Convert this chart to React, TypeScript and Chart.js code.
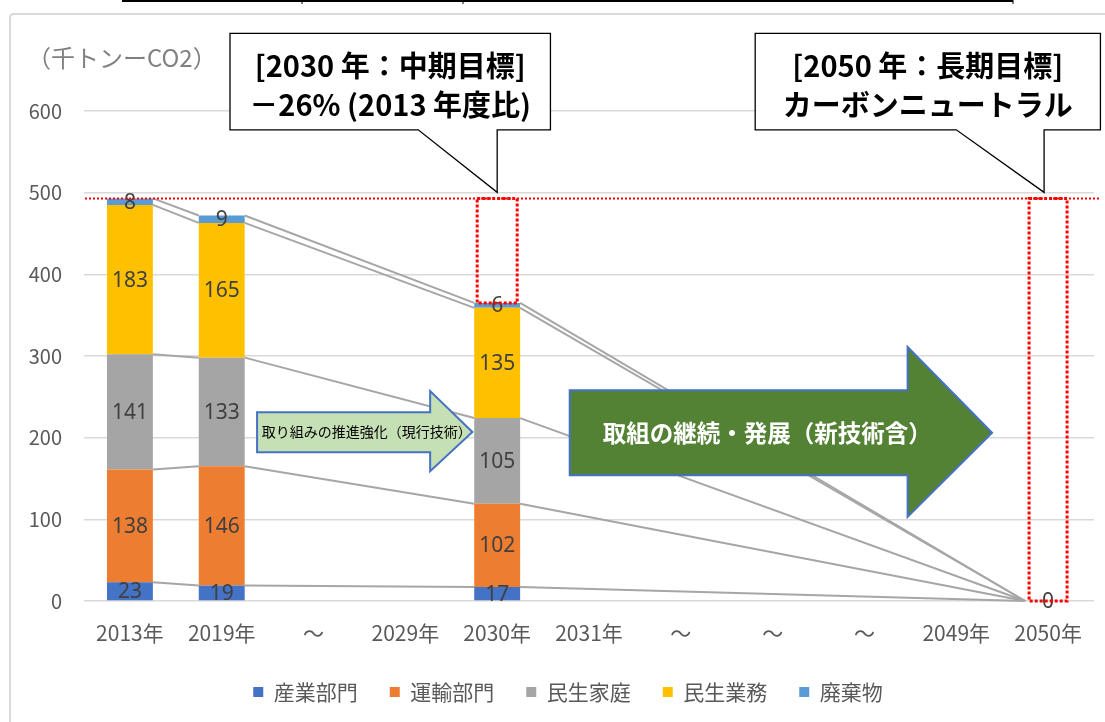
import React, { useEffect, useRef } from "react";
import { Chart, registerables } from "chart.js";

Chart.register(...registerables);

const categories = ["2013年", "2019年", "～", "2029年", "2030年", "2031年", "～", "～", "～", "2049年", "2050年"];
const industry = [23, 19, null, null, 17, null, null, null, null, null, 0];
const transport = [138, 146, null, null, 102, null, null, null, null, null, 0];
const household = [141, 133, null, null, 105, null, null, null, null, null, 0];
const business = [183, 165, null, null, 135, null, null, null, null, null, 0];
const waste = [8, 9, null, null, 6, null, null, null, null, null, 0];
const seriesNames = ["産業部門", "運輸部門", "民生家庭", "民生業務", "廃棄物"];
const seriesColors = ["#4472C4", "#ED7D31", "#A5A5A5", "#FFC000", "#5B9BD5"];
const seriesValues = [industry, transport, household, business, waste];
const yMin = 0;
const yMax = 600;
const yStep = 100;
const unitLabel = "（千トンーCO2）";
const callout2030 = ["[2030 年：中期目標]", "－26% (2013 年度比)"];
const callout2050 = ["[2050 年：長期目標]", "カーボンニュートラル"];
const arrow1Text = "取り組みの推進強化（現行技術）";
const arrow2Text = "取組の継続・発展（新技術含）";

const JP = '"Noto Sans CJK JP", "Noto Sans", sans-serif';
const NUM = '"Noto Sans", "Open Sans", sans-serif';

function totalAt(i: number): number {
  let s = 0;
  for (const arr of seriesValues) s += (arr[i] as number) || 0;
  return s;
}

const framePlugin = {
  id: "frame",
  afterLayout(chart: any) {
    // shift the legend's centring to match the original layout
    if (chart.legend) chart.legend.left += 42;
  },
  beforeDraw(chart: any) {
    const ctx = chart.ctx;
    ctx.save();
    ctx.fillStyle = "#ffffff";
    ctx.fillRect(0, 0, chart.width, chart.height);
    ctx.strokeStyle = "#D9D9D9";
    ctx.lineWidth = 2;
    ctx.beginPath();
    ctx.moveTo(10, chart.height + 5);
    ctx.lineTo(10, 18);
    ctx.quadraticCurveTo(10, 14, 14, 14);
    ctx.lineTo(chart.width + 5, 14);
    ctx.stroke();
    // cropped table border at the top
    ctx.strokeStyle = "#000000";
    ctx.lineWidth = 2;
    ctx.beginPath();
    ctx.moveTo(122, 1);
    ctx.lineTo(1013, 1);
    ctx.stroke();
    ctx.lineWidth = 1;
    ctx.beginPath();
    [302, 463, 1013].forEach((x) => {
      ctx.moveTo(x, 0);
      ctx.lineTo(x, 4);
    });
    ctx.stroke();
    ctx.restore();
  },
};

const seriesLinesPlugin = {
  id: "seriesLines",
  beforeDatasetsDraw(chart: any) {
    const ctx = chart.ctx;
    const ys = chart.scales.y;
    const meta0 = chart.getDatasetMeta(0);
    ctx.save();
    ctx.strokeStyle = "#A6A6A6";
    ctx.lineWidth = 2;
    for (let d = 0; d < seriesValues.length; d++) {
      const idx: number[] = [];
      for (let i = 0; i < categories.length; i++) if (seriesValues[d][i] !== null) idx.push(i);
      for (let k = 0; k < idx.length - 1; k++) {
        const a = idx[k];
        const b = idx[k + 1];
        let sa = 0;
        let sb = 0;
        for (let j = 0; j <= d; j++) {
          sa += seriesValues[j][a] as number;
          sb += seriesValues[j][b] as number;
        }
        const ea = meta0.data[a];
        const eb = meta0.data[b];
        ctx.beginPath();
        ctx.moveTo(ea.x + ea.width / 2, ys.getPixelForValue(sa));
        ctx.lineTo(eb.x - eb.width / 2, ys.getPixelForValue(sb));
        ctx.stroke();
      }
    }
    ctx.restore();
  },
};

const labelsPlugin = {
  id: "barLabels",
  afterDatasetsDraw(chart: any) {
    const ctx = chart.ctx;
    ctx.save();
    ctx.fillStyle = "#404040";
    ctx.font = `21px ${NUM}`;
    ctx.textAlign = "center";
    ctx.textBaseline = "middle";
    chart.data.datasets.forEach((ds: any, d: number) => {
      const meta = chart.getDatasetMeta(d);
      meta.data.forEach((el: any, i: number) => {
        const v = ds.data[i];
        if (v === null || v === undefined) return;
        if (v === 0 && d !== 0) return;
        ctx.fillText(String(v), el.x, (el.y + el.base) / 2 + 1);
      });
    });
    ctx.restore();
  },
};

function arrowPath(ctx: any, x0: number, bt: number, bb: number, hx: number, ht: number, hb: number, tx: number, ty: number) {
  ctx.beginPath();
  ctx.moveTo(x0, bt);
  ctx.lineTo(hx, bt);
  ctx.lineTo(hx, ht);
  ctx.lineTo(tx, ty);
  ctx.lineTo(hx, hb);
  ctx.lineTo(hx, bb);
  ctx.lineTo(x0, bb);
  ctx.closePath();
}

function calloutPath(ctx: any, l: number, t: number, r: number, b: number, baseL: number, tipX: number, tipY: number) {
  ctx.beginPath();
  ctx.moveTo(l, t);
  ctx.lineTo(r, t);
  ctx.lineTo(r, b);
  ctx.lineTo(tipX, b);
  ctx.lineTo(tipX, tipY);
  ctx.lineTo(baseL, b);
  ctx.lineTo(l, b);
  ctx.closePath();
}

const annotationsPlugin = {
  id: "annotations",
  afterDraw(chart: any) {
    const ctx = chart.ctx;
    const xs = chart.scales.x;
    const ys = chart.scales.y;
    const X = (i: number) => xs.getPixelForValue(i);
    const Y = (v: number) => ys.getPixelForValue(v);
    const base = totalAt(0);
    const i2030 = 4;
    const i2050 = 10;
    ctx.save();

    // red dotted reference line & boxes
    ctx.strokeStyle = "#FF0000";
    ctx.lineWidth = 2;
    ctx.setLineDash([2, 2]);
    ctx.beginPath();
    ctx.moveTo(chart.chartArea.left + 1, Y(base));
    ctx.lineTo(X(10.57), Y(base));
    ctx.stroke();
    ctx.lineWidth = 3;
    ctx.setLineDash([3, 2]);
    const bx1 = X(i2030);
    ctx.strokeRect(bx1 - 20, Y(base), 40, Y(totalAt(i2030)) - Y(base));
    const bx2 = X(i2050);
    ctx.strokeRect(bx2 - 19, Y(base), 38, Y(totalAt(i2050)) - Y(base));
    ctx.setLineDash([]);

    // arrow 1
    arrowPath(ctx, X(1.385), Y(231), Y(182), X(3.27), Y(257), Y(159), X(3.73), Y(207));
    ctx.fillStyle = "#C5E0B4";
    ctx.fill();
    ctx.strokeStyle = "#4472C4";
    ctx.lineWidth = 2;
    ctx.stroke();
    ctx.fillStyle = "#000000";
    ctx.font = `14px ${JP}`;
    ctx.textAlign = "center";
    ctx.textBaseline = "middle";
    ctx.fillText(arrow1Text, X(2.58), Y(207));

    // arrow 2
    arrowPath(ctx, X(4.79), Y(258), Y(154), X(8.47), Y(311), Y(103), X(9.39), Y(206));
    ctx.fillStyle = "#548235";
    ctx.fill();
    ctx.strokeStyle = "#4472C4";
    ctx.lineWidth = 2;
    ctx.stroke();
    ctx.fillStyle = "#ffffff";
    ctx.font = `bold 23.5px ${JP}`;
    ctx.fillText(arrow2Text, X(6.94), Y(206));

    // callouts
    ctx.lineWidth = 1.3;
    ctx.strokeStyle = "#000000";
    const top = Y(695);
    const bot = Y(577);
    const tipY = Y(base) - 6;
    calloutPath(ctx, X(1.09), top, X(4.58), bot, X(3.14), X(i2030), tipY);
    ctx.fillStyle = "#ffffff";
    ctx.fill();
    ctx.stroke();
    calloutPath(ctx, X(6.81), top, X(10.57), bot, X(9.0), X(i2050) - 4, tipY);
    ctx.fill();
    ctx.stroke();
    ctx.fillStyle = "#000000";
    ctx.font = `bold 29px ${JP}`;
    ctx.textAlign = "center";
    ctx.textBaseline = "middle";
    const c1 = (X(1.09) + X(4.58)) / 2;
    const c2 = (X(6.81) + X(10.57)) / 2;
    ctx.fillText(callout2030[0], c1, 66);
    ctx.fillText(callout2030[1], c1, 105);
    ctx.fillText(callout2050[0], c2, 66);
    ctx.fillText(callout2050[1], c2, 105);

    // unit label
    ctx.fillStyle = "#808080";
    ctx.font = `24px ${JP}`;
    ctx.textAlign = "left";
    ctx.fillText(unitLabel, 27, 58);
    ctx.restore();
  },
};

export default function App() {
  const ref = useRef<HTMLCanvasElement | null>(null);
  useEffect(() => {
    if (!ref.current) return;
    const chart = new Chart(ref.current, {
      type: "bar",
      data: {
        labels: categories,
        datasets: seriesNames.map((name, d) => ({
          label: name,
          data: seriesValues[d],
          backgroundColor: seriesColors[d],
          borderWidth: 0,
          barPercentage: 0.5,
          categoryPercentage: 1,
        })),
      },
      options: {
        animation: false,
        responsive: true,
        maintainAspectRatio: false,
        events: [],
        layout: { padding: { left: 0, right: 11, top: 111, bottom: 9.5 } },
        scales: {
          x: {
            stacked: true,
            grid: { display: false, drawTicks: false },
            border: { display: false },
            ticks: { color: "#595959", font: { family: JP, size: 21 }, padding: 19, maxRotation: 0, autoSkip: false },
            afterFit: (s: any) => {
              s.height = 48.5;
            },
          },
          y: {
            stacked: true,
            min: yMin,
            max: yMax,
            ticks: { stepSize: yStep, color: "#595959", font: { family: JP, size: 20 }, padding: 22 },
            grid: { color: "#D9D9D9", lineWidth: 1.5, drawTicks: false },
            border: { display: false },
            afterFit: (s: any) => {
              s.width = 84;
            },
          },
        },
        plugins: {
          legend: {
            position: "bottom",
            labels: {
              boxWidth: 10,
              boxHeight: 10,
              padding: 32,
              color: "#595959",
              font: { family: JP, size: 21 },
            },
          },
          tooltip: { enabled: false },
        },
      },
      plugins: [framePlugin, seriesLinesPlugin, labelsPlugin, annotationsPlugin],
    } as any);
    return () => chart.destroy();
  }, []);
  return (
    <div style={{ position: "absolute", left: 0, top: 0, width: 1105, height: 722 }}>
      <canvas ref={ref} />
    </div>
  );
}
